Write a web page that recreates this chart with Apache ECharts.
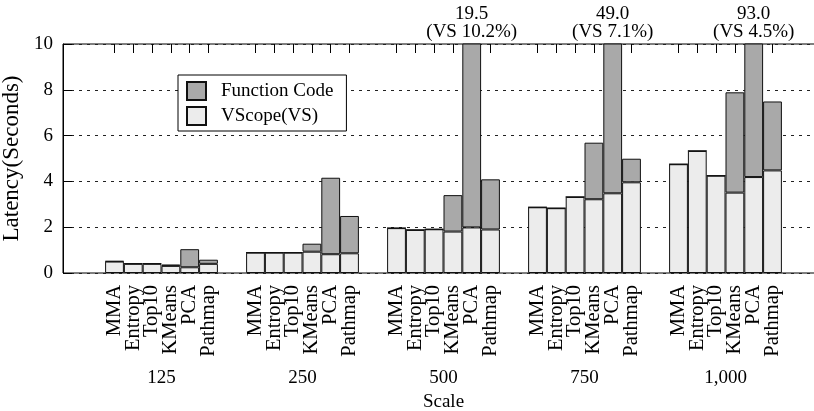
<!DOCTYPE html>
<html>
<head>
<meta charset="utf-8">
<script src="https://cdn.jsdelivr.net/npm/echarts@6/dist/echarts.min.js"></script>
<style>html,body{margin:0;padding:0;background:#fff}#c{width:814px;height:411px}</style>
</head>
<body>
<div id="c"></div>
<script>
// ---- data ----
const scales = ['125', '250', '500', '750', '1,000'];
const apps = ['MMA', 'Entropy', 'Top10', 'KMeans', 'PCA', 'Pathmap'];
// VScope(VS) latency per scale
const vsMMA     = [0.50, 0.89, 1.96, 2.87, 4.75];
const vsEntropy = [0.40, 0.89, 1.88, 2.83, 5.33];
const vsTop10   = [0.40, 0.89, 1.91, 3.32, 4.25];
const vsKMeans  = [0.31, 0.93, 1.81, 3.22, 3.51];
const vsPCA     = [0.25, 0.82, 1.99, 3.48, 4.19];
const vsPathmap = [0.40, 0.86, 1.90, 3.96, 4.48];
// Function Code latency per scale
const fcMMA     = [0.02, 0, 0, 0, 0];
const fcEntropy = [0.02, 0, 0, 0, 0];
const fcTop10   = [0.02, 0, 0, 0, 0];
const fcKMeans  = [0.06, 0.35, 1.59, 2.47, 4.38];
const fcPCA     = [0.79, 3.34, 17.51, 45.52, 88.81];
const fcPathmap = [0.18, 1.63, 2.19, 1.03, 3.01];
const yTicks = [0, 2, 4, 6, 8, 10];

const vsAll = [vsMMA, vsEntropy, vsTop10, vsKMeans, vsPCA, vsPathmap];
const fcAll = [fcMMA, fcEntropy, fcTop10, fcKMeans, fcPCA, fcPathmap];

const FONT = 'Liberation Serif';
const YMAX = 10;
// Per-bar label slots: each scale band is split into 15 half-bar slots
// (1.5 slots gap, 12 slots of bars, 1.5 slots gap); bar j centre = slot 2 + 2j.
const SLOTS = 15;
const slotLabels = [];
scales.forEach(() => {
  for (let k = 0; k < SLOTS; k++) {
    const j = (k - 2) / 2;
    slotLabels.push(Number.isInteger(j) && j >= 0 && j < apps.length ? apps[j] : '');
  }
});

const series = [];
apps.forEach((app, i) => {
  series.push({
    type: 'bar', name: 'VScope(VS)', stack: app, xAxisIndex: 1, yAxisIndex: 1,
    data: vsAll[i], barGap: 0, barCategoryGap: '20%',
    itemStyle: { color: '#ececec', borderColor: '#111', borderWidth: 1 },
    emphasis: { disabled: true }
  });
  series.push({
    type: 'bar', name: 'Function Code', stack: app, xAxisIndex: 1, yAxisIndex: 1,
    data: fcAll[i], barGap: 0, barCategoryGap: '20%',
    itemStyle: { color: '#a9a9a9', borderColor: '#111', borderWidth: 1 },
    emphasis: { disabled: true },
    label: {
      show: true, position: 'top', distance: 2,
      fontFamily: FONT, fontSize: 19, lineHeight: 18.5, color: '#000',
      formatter: p => {
        const vs = vsAll[i][p.dataIndex];
        const total = vs + fcAll[i][p.dataIndex];
        if (total <= YMAX) return '';
        return total.toFixed(1) + '\n(VS ' + (vs / total * 100).toFixed(1) + '%)';
      }
    }
  });
});

const chart = echarts.init(document.getElementById('c'), null, { renderer: 'canvas' });
chart.setOption({
  animation: false,
  textStyle: { fontFamily: FONT },
  grid: [
    { left: 63, top: 44, width: 800, height: 229, show: true, borderColor: '#000', borderWidth: 1,
      backgroundColor: 'transparent', outerBoundsMode: 'none', containLabel: false },
    { left: 91, top: 44, width: 705, height: 229, outerBoundsMode: 'none', containLabel: false }
  ],
  legend: {
    data: ['Function Code', 'VScope(VS)'],
    orient: 'vertical', left: 178, top: 75,
    padding: [6, 13, 5, 8], itemGap: 5,
    itemWidth: 19, itemHeight: 18, icon: 'rect',
    backgroundColor: '#fff', borderColor: '#000', borderWidth: 1, borderRadius: 0,
    selectedMode: false,
    textStyle: { fontFamily: FONT, fontSize: 19, color: '#000', padding: [0, 0, 0, 10] }
  },
  xAxis: [
    { gridIndex: 0, type: 'value', min: 0, max: 1, show: false },
    {
      gridIndex: 1, type: 'category', data: scales, position: 'bottom',
      axisLine: { show: false }, axisTick: { show: false },
      axisLabel: { margin: 96, fontFamily: FONT, fontSize: 19, color: '#000' },
      name: 'Scale', nameLocation: 'middle', nameGap: 120,
      nameTextStyle: { fontFamily: FONT, fontSize: 19, color: '#000' }
    },
    {
      gridIndex: 1, type: 'category', data: slotLabels, position: 'bottom',
      axisLine: { show: false }, splitLine: { show: false },
      axisTick: { show: false },
      axisLabel: {
        interval: 0, rotate: 90, margin: 12, hideOverlap: false, padding: [5, 0, 0, 0],
        fontFamily: FONT, fontSize: 20.5, color: '#000'
      }
    },
    {
      gridIndex: 1, type: 'category', data: slotLabels, position: 'top',
      axisLine: { show: false }, splitLine: { show: false },
      axisTick: { show: true, inside: true, length: 9, alignWithLabel: true,
        interval: (idx, val) => val !== '', lineStyle: { color: '#000', width: 1 } },
      axisLabel: { show: false, interval: 0 }
    }
  ],
  yAxis: [
    {
      gridIndex: 0, type: 'value', min: 0, max: YMAX, interval: 2,
      axisLine: { show: true, lineStyle: { color: '#000', width: 1 } },
      axisTick: { show: true, inside: true, length: 9, lineStyle: { color: '#000' } },
      axisLabel: { margin: 10, fontFamily: FONT, fontSize: 19, color: '#000', padding: [7, 0, 0, 0],
        customValues: yTicks },
      splitLine: { show: true, lineStyle: { color: '#222', width: 1, type: [3, 5] } },
      name: 'Latency(Seconds)', nameLocation: 'middle', nameGap: 31, nameRotate: 90,
      nameTextStyle: { fontFamily: FONT, fontSize: 23, color: '#000' }
    },
    { gridIndex: 1, type: 'value', min: 0, max: YMAX, show: false }
  ],
  series: series
});
</script>
</body>
</html>
